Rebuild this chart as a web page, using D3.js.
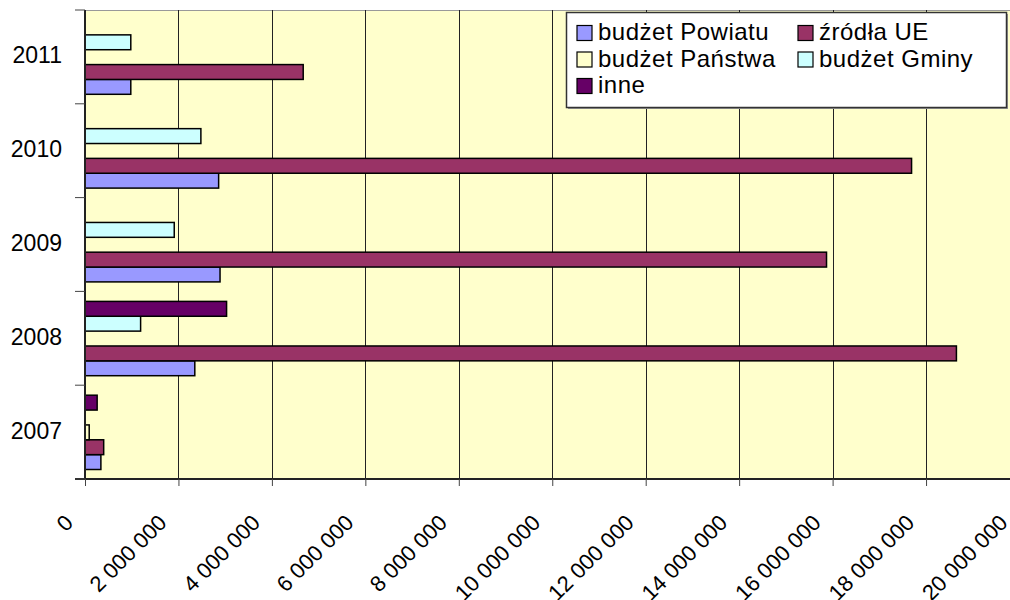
<!DOCTYPE html>
<html>
<head>
<meta charset="utf-8">
<script src="https://cdn.jsdelivr.net/npm/d3@7"></script>
<style>
  body { margin: 0; background: #fff; }
  text { font-family: "Liberation Sans", Arial, sans-serif; fill: #000; }
</style>
</head>
<body>
<script>
// data
var years = ["2007", "2008", "2009", "2010", "2011"];
var seriesNames = ["budżet Powiatu", "źródła UE", "budżet Państwa", "budżet Gminy", "inne"];
var seriesColors = ["#9999FF", "#993366", "#FFFFCC", "#CCFFFF", "#660066"];
var powiatu = [340000, 2350000, 2890000, 2860000, 980000];
var zrodlaUE = [400000, 18650000, 15870000, 17690000, 4670000];
var panstwa = [90000, 0, 0, 0, 0];
var gminy = [0, 1190000, 1910000, 2480000, 980000];
var inne = [260000, 3030000, 0, 0, 0];
var xTicks = [0, 2e6, 4e6, 6e6, 8e6, 10e6, 12e6, 14e6, 16e6, 18e6, 20e6];

var seriesValues = [powiatu, zrodlaUE, panstwa, gminy, inne];

var width = 1010, height = 600;
var plotLeft = 85, plotTop = 10, plotBottom = 479;

var svg = d3.select("body").append("svg")
    .attr("width", width)
    .attr("height", height);

var x = d3.scaleLinear().domain([0, 20e6]).range([plotLeft, 1019.5]);

var y = d3.scaleBand()
    .domain(years.slice().reverse())
    .range([plotTop, plotBottom]);

// bars inside a year: Powiatu at the bottom, inne at the top
var inner = d3.scaleBand()
    .domain(seriesNames.slice().reverse())
    .range([10, y.bandwidth() - 9.5]);

// plot background
svg.append("rect")
    .attr("x", plotLeft)
    .attr("y", plotTop)
    .attr("width", width - plotLeft)
    .attr("height", plotBottom - plotTop)
    .attr("fill", "#FFFFCC");

svg.append("line")
    .attr("x1", plotLeft).attr("x2", width)
    .attr("y1", plotTop + 0.5).attr("y2", plotTop + 0.5)
    .attr("stroke", "#999");

// vertical grid
svg.selectAll("line.grid")
    .data(xTicks.slice(1))
    .enter().append("line")
    .attr("class", "grid")
    .attr("x1", function(d) { return Math.round(x(d)) + 0.5; })
    .attr("x2", function(d) { return Math.round(x(d)) + 0.5; })
    .attr("y1", plotTop)
    .attr("y2", plotBottom)
    .attr("stroke", "#222")
    .attr("stroke-width", 1);

// bars
var rows = [];
years.forEach(function(yr, i) {
  seriesNames.forEach(function(s, j) {
    rows.push({ year: yr, name: s, color: seriesColors[j], value: seriesValues[j][i] });
  });
});

svg.selectAll("rect.bar")
    .data(rows.filter(function(d) { return d.value > 0; }))
    .enter().append("rect")
    .attr("class", "bar")
    .attr("x", x(0))
    .attr("y", function(d) { return y(d.year) + inner(d.name); })
    .attr("width", function(d) { return x(d.value) - x(0); })
    .attr("height", inner.bandwidth())
    .attr("fill", function(d) { return d.color; })
    .attr("stroke", "#000")
    .attr("stroke-width", 1.5);

// x axis
var xAxis = svg.append("g")
    .attr("transform", "translate(0," + plotBottom + ")")
    .call(d3.axisBottom(x).tickValues(xTicks).tickSize(7).tickFormat(""));
xAxis.select(".domain").attr("stroke", "#222").attr("stroke-width", 2)
    .attr("d", "M" + (plotLeft - 10) + ",0H" + width);
xAxis.selectAll(".tick line").attr("stroke", "#444");

svg.selectAll("text.xlab")
    .data(xTicks)
    .enter().append("text")
    .attr("class", "xlab")
    .attr("text-anchor", "end")
    .attr("transform", function(d) { return "translate(" + (x(d) - 10.5) + ",524) rotate(-45)"; })
    .style("font-size", "22px")
    .text(function(d) { return d3.format(",")(d).replace(/,/g, " "); });

// y axis
var yAxis = svg.append("g")
    .attr("transform", "translate(" + plotLeft + ",0)");
yAxis.append("line")
    .attr("x1", 0).attr("x2", 0)
    .attr("y1", plotTop).attr("y2", plotBottom)
    .attr("stroke", "#222").attr("stroke-width", 2);
yAxis.selectAll("line.ytick")
    .data(d3.range(years.length + 1))
    .enter().append("line")
    .attr("class", "ytick")
    .attr("x1", -10).attr("x2", 0)
    .attr("y1", function(i) { return plotTop + i * y.step(); })
    .attr("y2", function(i) { return plotTop + i * y.step(); })
    .attr("stroke", "#444");
yAxis.selectAll("text")
    .data(years)
    .enter().append("text")
    .attr("x", -23)
    .attr("y", function(d) { return y(d) + y.bandwidth() / 2 + 6.5; })
    .attr("text-anchor", "end")
    .style("font-size", "23px")
    .text(function(d) { return d; });

// legend
var lg = svg.append("g").attr("transform", "translate(566,12)");
lg.append("rect")
    .attr("x", 2).attr("y", 2)
    .attr("width", 440).attr("height", 95)
    .attr("fill", "#999");
lg.append("rect")
    .attr("x", 0.5).attr("y", 0.5)
    .attr("width", 440).attr("height", 95)
    .attr("fill", "#fff")
    .attr("stroke", "#333")
    .attr("stroke-width", 1.5);

var legendItems = lg.selectAll("g.item")
    .data(seriesNames)
    .enter().append("g")
    .attr("class", "item")
    .attr("transform", function(d, i) {
      return "translate(" + (i % 2 ? 232 : 11) + "," + (28 + Math.floor(i / 2) * 26.5) + ")";
    });
legendItems.append("rect")
    .attr("y", -14.5)
    .attr("width", 15).attr("height", 15)
    .attr("fill", function(d, i) { return seriesColors[i]; })
    .attr("stroke", "#000")
    .attr("stroke-width", 1.2);
legendItems.append("text")
    .attr("x", 21)
    .attr("y", 0)
    .style("font-size", "24px")
    .style("letter-spacing", "0.5px")
    .text(function(d) { return d; });
</script>
</body>
</html>
